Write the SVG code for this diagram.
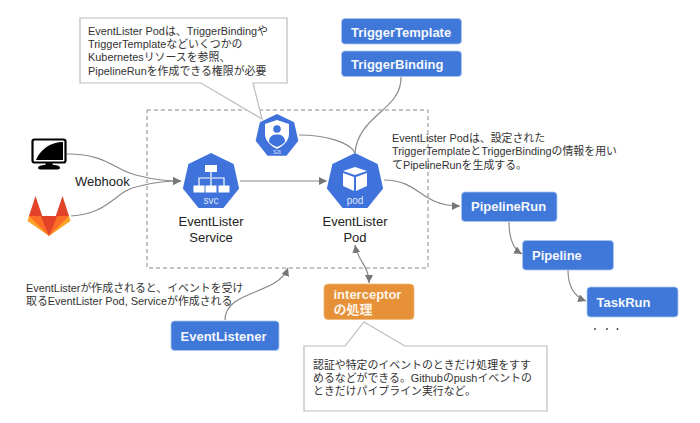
<svg xmlns="http://www.w3.org/2000/svg" width="700" height="423" viewBox="0 0 700 423">
<style>
text{font-family:"Liberation Sans","Noto Sans CJK JP",sans-serif;fill:#333}
.n{font-size:10.9px}
.l{font-size:13px;fill:#222}
.b{font-size:13px;font-weight:bold;fill:#f4f7fd}
.box{fill:#3f78d8;stroke:#a9c4f0;stroke-width:.8}
.note{fill:#fff;stroke:#bdbdbd;stroke-width:1.2}
.c{fill:none;stroke:#8a8a8a;stroke-width:1.2}
.a{marker-end:url(#ah)}
.hex{fill:#3f72db}
.ic{fill:#fff}
.tag{text-anchor:middle}
</style>
<defs>
<marker id="ah" markerUnits="userSpaceOnUse" markerWidth="9" markerHeight="8" refX="8" refY="4" orient="auto-start-reverse"><path d="M0 0L8 4L0 8z" fill="#777"/></marker>
<polygon id="hept" points="0,-1 .78,-.62 .97,.22 .43,.9 -.43,.9 -.97,.22 -.78,-.62"/>
</defs>
<rect x="147" y="110" width="281" height="158" fill="none" stroke="#8a8a8a" stroke-width="1" stroke-dasharray="4 3"/>
<g id="connectors">
<path class="c a" d="M67 154C110 154 115 172 140 176C155 180 165 181 181 181"/>
<path class="c a" d="M71 216C110 214 115 190 140 186C155 182 165 181 181 181"/>
<path class="c a" d="M240 181H327"/>
<path class="c" d="M299 135C325 135 350 142 355 153"/>
<path class="c" d="M401 77C402 110 358 115 355 153"/>
<path class="c a" d="M384 180C420 180 420 206 460 206"/>
<path class="c a" d="M509 222C509 240 515 250 522 254"/>
<path class="c a" d="M568 270C568 290 578 298 586 301"/>
<path class="c a" d="M225 320C225 290 278 295 288 268"/>
<path class="c a" style="marker-start:url(#ah)" d="M355 245C358 262 369 265 369 283"/>
</g>
<g id="note-sa">
<path class="note" d="M80 18H287V83H253L262 119L201 83H80z"/>
<text class="n"><tspan x="88" y="35">EventLister Podは、TriggerBindingや</tspan><tspan x="88" y="48">TriggerTemplateなどいくつかの</tspan><tspan x="88" y="61">Kubernetesリソースを参照、</tspan><tspan x="88" y="75">PipelineRunを作成できる権限が必要</tspan></text>
</g>
<g id="triggertemplate"><rect class="box" x="341.5" y="18.5" width="120" height="25.5" rx="3.5"/><text class="b" x="351" y="36.500">TriggerTemplate</text></g>
<g id="triggerbinding"><rect class="box" x="341.500" y="51" width="120" height="25.500" rx="3.500"/><text class="b" x="351" y="69">TriggerBinding</text></g>
<g id="monitor">
<rect x="32.500" y="139.500" width="33" height="23" rx="2" fill="#fff" stroke="#000" stroke-width="2.200"/>
<path d="M36 160C40 150 50 142 63 142V160z" fill="#000"/>
<path d="M46 163H52L53 165C58 165 60 166 60 168C60 169 58 169.500 56 169.500H42C40 169.500 38 169 38 168C38 166 41 165 45 165z" fill="#000"/>
</g>
<g id="gitlab">
<path d="M35.500 196L29 216L49 236z" fill="#e24329"/>
<path d="M62.500 196L69 216L49 236z" fill="#e24329"/>
<path d="M29 216L27.500 221L49 236L36 216z" fill="#fca326"/>
<path d="M69 216L70.500 221L49 236L62 216z" fill="#fca326"/>
<path d="M29 216H41L49 236z" fill="#fc6d26"/>
<path d="M69 216H57L49 236z" fill="#fc6d26"/>
<path d="M41 216H57L49 236z" fill="#e24329"/>
</g>
<text class="l" x="75" y="185.500">Webhook</text>
<g id="sa">
<use href="#hept" class="hex" transform="translate(277 136) scale(22)"/>
<path class="ic" d="M277 120L289 124V134C289 141 283 146 277 149C271 146 265 141 265 134V124z"/>
<circle cx="277" cy="129" r="3.800" fill="#3f72db"/>
<path d="M269 142C269 136 273 134.500 277 134.500C281 134.500 285 136 285 142C283 144 280 146 277 147C274 146 271 144 269 142z" fill="#3f72db"/>
<text class="tag" x="277" y="153.500" font-size="7.500" style="fill:#c9d8f6">sa</text>
</g>
<g id="svc">
<use href="#hept" class="hex" transform="translate(211 182) scale(29)"/>
<rect class="ic" x="205" y="165" width="12" height="7"/>
<path d="M211 172V177M199 186V178H224V186M211 178V186" fill="none" stroke="#fff" stroke-width="1.200"/>
<rect class="ic" x="193.500" y="185.500" width="11" height="7"/><rect class="ic" x="205.500" y="185.500" width="11" height="7"/><rect class="ic" x="218.500" y="185.500" width="11" height="7"/>
<text class="tag" x="211" y="204" font-size="10" style="fill:#dfe8fa">svc</text>
</g>
<g id="pod">
<use href="#hept" class="hex" transform="translate(355 182) scale(29)"/>
<path class="ic" d="M355 167L367 171L355 175L343 171z"/>
<path class="ic" d="M343 173L354 177V191L343 186z"/>
<path class="ic" d="M367 173L356 177V191L367 186z"/>
<text class="tag" x="355" y="204" font-size="10" style="fill:#dfe8fa">pod</text>
</g>
<text class="l" text-anchor="middle"><tspan x="211" y="226">EventLister</tspan><tspan x="211" y="241.500">Service</tspan></text>
<text class="l" text-anchor="middle"><tspan x="355" y="226">EventLister</tspan><tspan x="355" y="241.500">Pod</tspan></text>
<text class="n"><tspan x="392" y="142">EventLister Podは、設定された</tspan><tspan x="392" y="155">TriggerTemplateとTriggerBindingの情報を用い</tspan><tspan x="392" y="169">てPipelineRunを生成する。</tspan></text>
<g id="pipelinerun"><rect class="box" x="461.500" y="192" width="95.500" height="29.500" rx="3.500"/><text class="b" x="471" y="211">PipelineRun</text></g>
<g id="pipeline"><rect class="box" x="522.500" y="240.500" width="91" height="29.500" rx="3.500"/><text class="b" x="532" y="260">Pipeline</text></g>
<g id="taskrun"><rect class="box" x="587" y="287" width="91" height="30" rx="3.500"/><text class="b" x="596.500" y="307">TaskRun</text></g>
<g id="dots" fill="#333"><circle cx="595" cy="329" r=".9"/><circle cx="607" cy="329" r=".9"/><circle cx="617.500" cy="329" r=".9"/></g>
<text class="n"><tspan x="26" y="292">EventListerが作成されると、イベントを受け</tspan><tspan x="26" y="305">取るEventLister Pod, Serviceが作成される</tspan></text>
<g id="eventlistener"><rect class="box" x="171" y="321" width="108" height="29.500" rx="3.500"/><text class="b" x="180.500" y="340.500">EventListener</text></g>
<g id="interceptor"><rect x="324" y="284" width="90" height="35.500" rx="4" fill="#e69138" stroke="#f0b87a" stroke-width=".8"/><text class="b" style="fill:#fdf3e6"><tspan x="333.500" y="299">interceptor</tspan><tspan x="333.500" y="314">の処理</tspan></text></g>
<g id="note-interceptor">
<path class="note" d="M304 346H345L364 322L405 346H547V411H304z"/>
<text class="n"><tspan x="313" y="369">認証や特定のイベントのときだけ処理をすす</tspan><tspan x="313" y="382">めるなどができる。Githubのpushイベントの</tspan><tspan x="313" y="395">ときだけパイプライン実行など。</tspan></text>
</g>
</svg>
